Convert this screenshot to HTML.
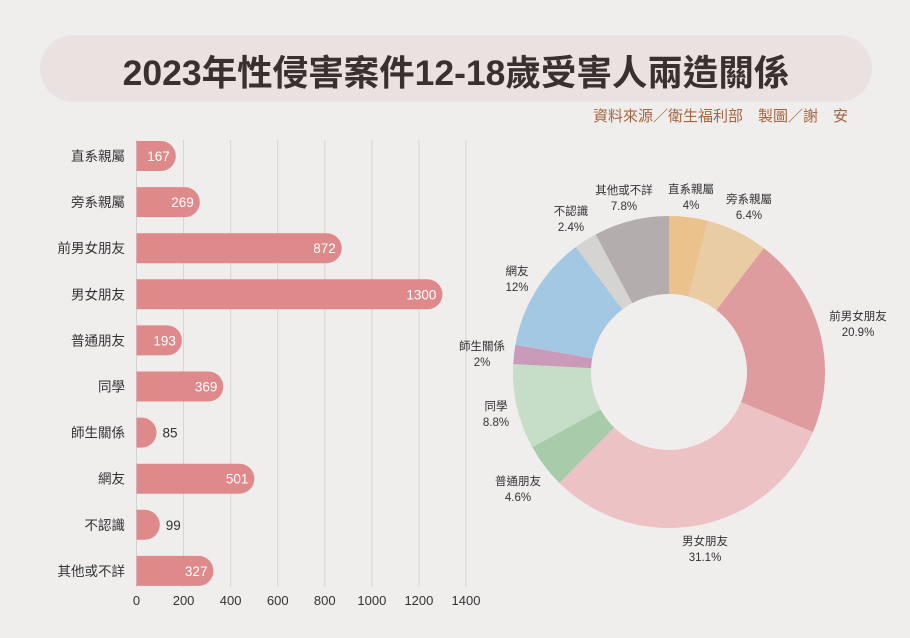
<!DOCTYPE html>
<html><head><meta charset="utf-8"><style>
body{margin:0;background:#F0EDED;width:910px;height:638px;overflow:hidden;font-family:"Liberation Sans","Noto Sans CJK TC",sans-serif;}
</style></head><body>
<svg id="s" width="910" height="638" xmlns="http://www.w3.org/2000/svg" style="position:absolute;left:0;top:0;font-family:'Liberation Sans','Noto Sans CJK TC',sans-serif">
<rect x="40" y="35" width="832" height="67" rx="33.5" fill="#EAE2E0"/>
<text x="456" y="85" text-anchor="middle" font-size="35.5" font-weight="bold" fill="#3A302E">2023年性侵害案件12-18歲受害人兩造關係</text>
<text x="848" y="121" text-anchor="end" font-size="15" fill="#A5653F">資料來源／衛生福利部　製圖／謝　安</text>
<g id="grid"></g><g id="bars"></g><g id="pie"></g>
</svg>
<script>
var s=document.getElementById('s'),NS='http://www.w3.org/2000/svg';
function el(t,a,txt,p){var e=document.createElementNS(NS,t);for(var k in a)e.setAttribute(k,a[k]);if(txt!=null)e.textContent=txt;(p||s).appendChild(e);return e;}
var g=document.getElementById('grid'),b=document.getElementById('bars'),pg=document.getElementById('pie');
var x0=136.5,sc=329.5/1400;
for(var i=0;i<=7;i++){var x=x0+i*200*sc;el('line',{x1:x,x2:x,y1:140,y2:587,stroke:'#D5D2D2','stroke-width':1},null,g);
el('text',{x:x,y:605,'text-anchor':'middle','font-size':13,fill:'#333'},String(i*200),g);}
var names=['直系親屬','旁系親屬','前男女朋友','男女朋友','普通朋友','同學','師生關係','網友','不認識','其他或不詳'];
var vals=[167,269,872,1300,193,369,85,501,99,327];
for(var i=0;i<10;i++){var cy=156+i*46.1,w=vals[i]*sc;
el('text',{x:125,y:cy+5,'text-anchor':'end','font-size':13.5,fill:'#333'},names[i],b);
el('path',{d:'M'+x0+' '+(cy-15)+'H'+(x0+w-15)+'A15 15 0 0 1 '+(x0+w-15)+' '+(cy+15)+'H'+x0+'Z',fill:'#DE8A8A'},null,b);
if(vals[i]>150)el('text',{x:x0+w-6,y:cy+5,'text-anchor':'end','font-size':13.5,fill:'#fff'},String(vals[i]),b);
else el('text',{x:x0+w+6,y:cy+5,'font-size':13.5,fill:'#333'},String(vals[i]),b);}
var pc=[4,6.4,20.9,31.1,4.6,8.8,2,12,2.4,7.8];
var cols=['#EBC28C','#E9CBA4','#DF9C9E','#EDC2C4','#A8CCAA','#C6DEC8','#C99BB8','#A3C8E3','#D6D3D3','#B4ADAD'];
var cx=669,cy=372,R=156,r=78,a=0;
function pt(rad,ang){return [cx+rad*Math.sin(ang),cy-rad*Math.cos(ang)];}
for(var i=0;i<10;i++){var a1=a+pc[i]/100*2*Math.PI,l=(a1-a)>Math.PI?1:0;
var p1=pt(R,a),p2=pt(R,a1),p3=pt(r,a1),p4=pt(r,a);
el('path',{d:'M'+p1+'A'+R+' '+R+' 0 '+l+' 1 '+p2+'L'+p3+'A'+r+' '+r+' 0 '+l+' 0 '+p4+'Z',fill:cols[i]},null,pg);a=a1;}
var labs=[[691,193],[749,203],[858,320],[705,545],[518,485],[496,410],[482,350],[517,275],[571,215],[624,194]];
for(var i=0;i<10;i++){el('text',{x:labs[i][0],y:labs[i][1],'text-anchor':'middle','font-size':11.5,fill:'#333'},names[i],pg);
el('text',{x:labs[i][0],y:labs[i][1]+16,'text-anchor':'middle','font-size':11.5,fill:'#333'},pc[i]+'%',pg);}
</script>
</body></html>
